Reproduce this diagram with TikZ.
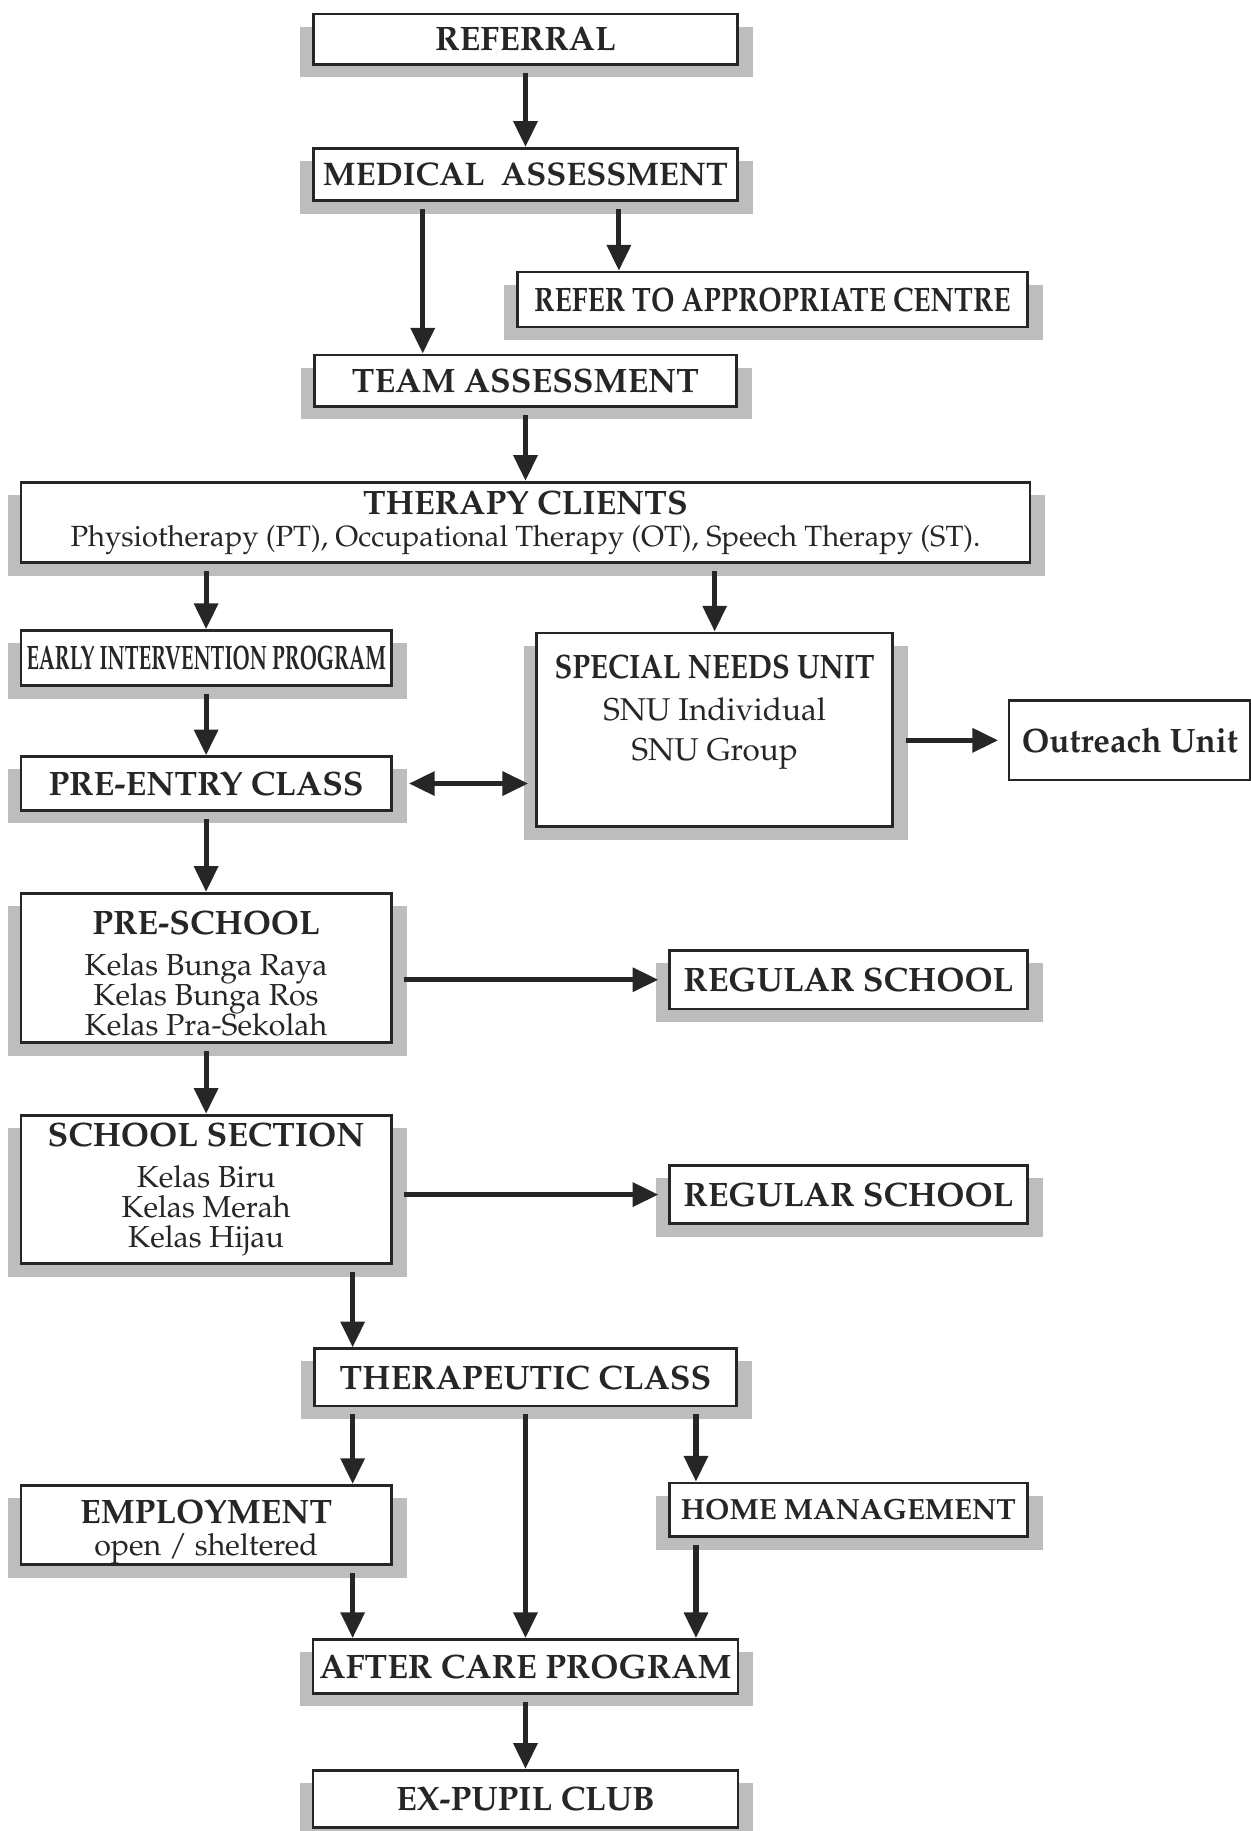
\documentclass[tikz,border=0pt]{standalone}
\usepackage[T1]{fontenc}
\renewcommand{\rmdefault}{ppl}
\usepackage{graphicx}
\usetikzlibrary{arrows.meta,backgrounds}

\definecolor{inkc}{HTML}{262626}
\definecolor{shadowc}{HTML}{BDBDBD}

\newcommand{\boxtitle}{\fontsize{14.5}{16}\selectfont\bfseries}
\newcommand{\sublines}[2]{\fontsize{#1}{#2}\selectfont\lineskiplimit=-20pt}

\tikzset{
  box/.style={draw=inkc, line width=1.2pt, fill=white, text=inkc, inner sep=0pt,
    align=center, font=\boxtitle},
  arr/.style={draw=inkc, line width=2.2pt, shorten <=3pt,
    -{Triangle[length=11pt,width=10pt]}},
  dblarr/.style={draw=inkc, line width=2.2pt,
    {Triangle[length=11pt,width=10pt]}-{Triangle[length=11pt,width=10pt]}}
}

\begin{document}
\begin{tikzpicture}[x=0.5pt,y=-0.5pt]
	\useasboundingbox (0,0) rectangle (1071,1568);

	% main column
	\node[box, minimum width=181.5pt, minimum height=21.5pt] (referral) at (450,33.5) {REFERRAL};
	\node[box, minimum width=181.5pt, minimum height=22.5pt] (medical) at (450,149.5)
		{\fontsize{14}{16}\selectfont MEDICAL\enspace ASSESSMENT};
	\node[box, minimum width=218.5pt, minimum height=23.5pt] (refer) at (661.5,256.5)
		{\resizebox{204pt}{\height}{REFER TO APPROPRIATE CENTRE}};
	\node[box, minimum width=181pt, minimum height=22pt] (team) at (450,326) {TEAM ASSESSMENT};
	\node[box, minimum width=432pt, minimum height=34.5pt, font=\sublines{12.5}{13.5}] (therapy) at (450,447.5)
		{\boxtitle THERAPY CLIENTS\\Physiotherapy (PT), Occupational Therapy (OT), Speech Therapy (ST).};

	% left column
	\node[box, minimum width=158.5pt, minimum height=23.5pt] (early) at (176.5,563.5)
		{\resizebox{154pt}{\height}{EARLY INTERVENTION PROGRAM}};
	\node[box, minimum width=158.5pt, minimum height=23pt] (preentry) at (176.5,671) {PRE-ENTRY CLASS};
	\node[box, minimum width=158.5pt, minimum height=64pt, font=\sublines{13}{12.75}] (preschool) at (176.5,829)
		{\boxtitle\rule{0pt}{14.5pt}PRE-SCHOOL\\[5pt]Kelas Bunga Raya\\Kelas Bunga Ros\\Kelas Pra-Sekolah};
	\node[box, minimum width=158.5pt, minimum height=63.5pt, font=\sublines{13}{12.75}] (school) at (176.5,1018.5)
		{\boxtitle SCHOOL SECTION\\[5pt]Kelas Biru\\Kelas Merah\\Kelas Hijau};
	\node[box, minimum width=158.5pt, minimum height=34pt, font=\sublines{13}{14}] (employment) at (176.5,1306)
		{\boxtitle\rule{0pt}{16pt}EMPLOYMENT\\open / sheltered};

	% right column
	\node[box, minimum width=152.5pt, minimum height=83pt, font=\sublines{13.5}{17.5}] (snu) at (612,625)
		{\boxtitle\resizebox{137pt}{\height}{SPECIAL NEEDS UNIT}\\[0.5pt]SNU Individual\\SNU Group\rule[-19pt]{0pt}{1pt}};
	\node[box, minimum width=103.5pt, minimum height=34pt] (outreach) at (967.5,634)
		{\resizebox{92.5pt}{\height}{Outreach Unit}};
	\node[box, minimum width=153.5pt, minimum height=25pt] (regular1) at (726.5,839) {REGULAR SCHOOL};
	\node[box, minimum width=153.5pt, minimum height=25pt] (regular2) at (726.5,1023) {REGULAR SCHOOL};
	\node[box, minimum width=153.5pt, minimum height=23pt] (home) at (726.5,1293)
		{\fontsize{12.5}{14}\selectfont HOME MANAGEMENT};

	% bottom
	\node[box, minimum width=181pt, minimum height=24.5pt] (therapeutic) at (450,1179.5) {THERAPEUTIC CLASS};
	\node[box, minimum width=182pt, minimum height=23pt] (aftercare) at (450,1427) {AFTER CARE PROGRAM};
	\node[box, minimum width=182pt, minimum height=24.5pt] (expupil) at (450,1540.5) {EX-PUPIL CLUB};

	% shadows
	\begin{scope}[on background layer]
		\foreach \n in {referral,medical,refer,team,therapy,early,preentry,preschool,school,
			employment,snu,regular1,regular2,home,therapeutic,aftercare,expupil}
			\fill[shadowc] ([shift={(-5pt,-6pt)}]\n.north west) rectangle ([shift={(6pt,-5pt)}]\n.south east);
	\end{scope}

	% arrows
	\draw[arr] (referral) -- (medical);
	\draw[arr] ([xshift=-44pt]medical.south) -- ([xshift=-44pt]team.north);
	\draw[arr] ([xshift=40pt]medical.south) -- ([xshift=40pt]medical.south |- refer.north);
	\draw[arr] (team) -- (therapy);
	\draw[arr] (early.north |- therapy.south) -- (early.north);
	\draw[arr] (snu.north |- therapy.south) -- (snu.north);
	\draw[arr] (early) -- (preentry);
	\draw[dblarr, shorten <=7pt, shorten >=3pt] (preentry.east) -- (preentry.east -| snu.west);
	\draw[arr, shorten <=5pt, shorten >=4pt] (snu.east |- outreach.west) -- (outreach.west);
	\draw[arr] (preentry) -- (preschool);
	\draw[arr, shorten <=5pt, shorten >=4pt] (preschool.east |- regular1.west) -- (regular1.west);
	\draw[arr] (preschool) -- (school);
	\draw[arr, shorten <=5pt, shorten >=4pt] (school.east |- regular2.west) -- (regular2.west);
	\draw[arr] ([xshift=-74pt]therapeutic.north |- school.south) -- ([xshift=-74pt]therapeutic.north);
	\draw[arr] ([xshift=-74pt]therapeutic.south) -- ([xshift=-74pt]therapeutic.south |- employment.north);
	\draw[arr] (therapeutic.south) -- (aftercare.north);
	\draw[arr] ([xshift=73pt]therapeutic.south) -- ([xshift=73pt]therapeutic.south |- home.north);
	\draw[arr] ([xshift=-74pt]aftercare.north |- employment.south) -- ([xshift=-74pt]aftercare.north);
	\draw[arr] ([xshift=73pt]aftercare.north |- home.south) -- ([xshift=73pt]aftercare.north);
	\draw[arr] (aftercare) -- (expupil);

\end{tikzpicture}
\end{document}
